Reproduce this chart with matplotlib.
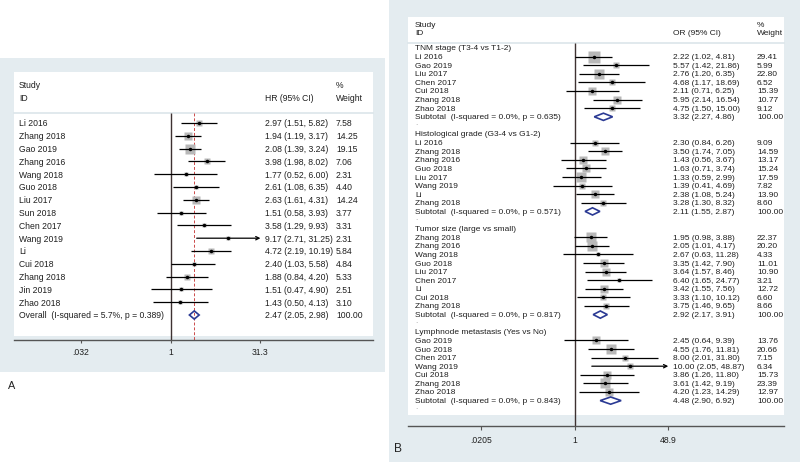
import matplotlib
matplotlib.use('Agg')
import matplotlib.pyplot as plt
from matplotlib.patches import Rectangle, Polygon
import numpy as np

# ---------------- data: panel A (HR) ----------------
a_studies = ["Li 2016", "Zhang 2018", "Gao 2019", "Zhang 2016", "Wang 2018", "Guo 2018",
             "Liu 2017", "Sun 2018", "Chen 2017", "Wang 2019", "Li", "Cui 2018",
             "Zhang 2018", "Jin 2019", "Zhao 2018"]
a_hr = [2.97, 1.94, 2.08, 3.98, 1.77, 2.61, 2.63, 1.51, 3.58, 9.17, 4.72, 2.40, 1.88, 1.51, 1.43]
a_lo = [1.51, 1.19, 1.39, 1.98, 0.52, 1.08, 1.61, 0.58, 1.29, 2.71, 2.19, 1.03, 0.84, 0.47, 0.50]
a_hi = [5.82, 3.17, 3.24, 8.02, 6.00, 6.35, 4.31, 3.93, 9.93, 31.25, 10.19, 5.58, 4.20, 4.90, 4.13]
a_wt = [7.58, 14.25, 19.15, 7.06, 2.31, 4.40, 14.24, 3.77, 3.31, 2.31, 5.84, 4.84, 5.33, 2.51, 3.10]
a_overall_label = "Overall  (I-squared = 5.7%, p = 0.389)"
a_overall = [2.47, 2.05, 2.98, 100.00]
a_ticks = [0.032, 1, 31.3]
a_ticklabels = [".032", "1", "31.3"]

# ---------------- data: panel B (OR) ----------------
b_group_titles = ["TNM stage (T3-4 vs T1-2)", "Histological grade (G3-4 vs G1-2)",
                  "Tumor size (large vs small)", "Lymphnode metastasis (Yes vs No)"]

tnm_studies = ["Li 2016", "Gao 2019", "Liu 2017", "Chen 2017", "Cui 2018", "Zhang 2018", "Zhao 2018"]
tnm_or = [2.22, 5.57, 2.76, 4.68, 2.11, 5.95, 4.75]
tnm_lo = [1.02, 1.42, 1.20, 1.17, 0.71, 2.14, 1.50]
tnm_hi = [4.81, 21.86, 6.35, 18.69, 6.25, 16.54, 15.00]
tnm_wt = [29.41, 5.99, 22.80, 6.52, 15.39, 10.77, 9.12]
tnm_sub = [3.32, 2.27, 4.86, 100.00]
tnm_p = "0.635"

hist_studies = ["Li 2016", "Zhang 2018", "Zhang 2016", "Guo 2018", "Liu 2017", "Wang 2019", "Li", "Zhang 2018"]
hist_or = [2.30, 3.50, 1.43, 1.63, 1.33, 1.39, 2.38, 3.28]
hist_lo = [0.84, 1.74, 0.56, 0.71, 0.59, 0.41, 1.08, 1.30]
hist_hi = [6.26, 7.05, 3.67, 3.74, 2.99, 4.69, 5.24, 8.32]
hist_wt = [9.09, 14.59, 13.17, 15.24, 17.59, 7.82, 13.90, 8.60]
hist_sub = [2.11, 1.55, 2.87, 100.00]
hist_p = "0.571"

size_studies = ["Zhang 2018", "Zhang 2016", "Wang 2018", "Guo 2018", "Liu 2017", "Chen 2017", "Li", "Cui 2018", "Zhang 2018"]
size_or = [1.95, 2.05, 2.67, 3.35, 3.64, 6.40, 3.42, 3.33, 3.75]
size_lo = [0.98, 1.01, 0.63, 1.42, 1.57, 1.65, 1.55, 1.10, 1.46]
size_hi = [3.88, 4.17, 11.28, 7.90, 8.46, 24.77, 7.56, 10.12, 9.65]
size_wt = [22.37, 20.20, 4.33, 11.01, 10.90, 3.21, 12.72, 6.60, 8.66]
size_sub = [2.92, 2.17, 3.91, 100.00]
size_p = "0.817"

lymph_studies = ["Gao 2019", "Guo 2018", "Chen 2017", "Wang 2019", "Cui 2018", "Zhang 2018", "Zhao 2018"]
lymph_or = [2.45, 4.55, 8.00, 10.00, 3.86, 3.61, 4.20]
lymph_lo = [0.64, 1.76, 2.01, 2.05, 1.26, 1.42, 1.23]
lymph_hi = [9.39, 11.81, 31.80, 48.87, 11.80, 9.19, 14.29]
lymph_wt = [13.76, 20.66, 7.15, 6.34, 15.73, 23.39, 12.97]
lymph_sub = [4.48, 2.90, 6.92, 100.00]
lymph_p = "0.843"

b_ticks = [0.0205, 1, 48.9]
b_ticklabels = [".0205", "1", "48.9"]

# ---------------- styling ----------------
plt.rcParams['font.family'] = ['Liberation Sans', 'DejaVu Sans']
W, H = 800, 462
fig = plt.figure(figsize=(8, 4.62), dpi=100)
fig.patch.set_facecolor('white')

BG = '#e4ecf0'
SEP = '#dce5ea'
TXT = '#1f1f1f'
BOX = '#b8b8b8'
NULLC = '#3e3232'
DIAM = '#2b3a94'
REDD = '#cc4a4a'


def frect(x0, y0, x1, y1, color, z=-5):
    fig.add_artist(Rectangle((x0 / W, 1 - y1 / H), (x1 - x0) / W, (y1 - y0) / H,
                             transform=fig.transFigure, facecolor=color,
                             edgecolor='none', zorder=z))


def fline(x0, x1, y, color, lw=1.0):
    fig.add_artist(plt.Line2D([x0 / W, x1 / W], [1 - y / H, 1 - y / H],
                              transform=fig.transFigure, color=color, lw=lw, zorder=-3))


def make_ax(x0, y0, x1, y1, null_px, ppd, row0_px, row_px):
    ax = fig.add_axes([x0 / W, 1 - y1 / H, (x1 - x0) / W, (y1 - y0) / H])
    ax.set_facecolor('none')
    ax.set_xscale('log')
    ax.set_xlim(10 ** ((x0 - null_px) / ppd), 10 ** ((x1 - null_px) / ppd))
    ax.set_ylim((y1 - row0_px) / row_px, (y0 - row0_px) / row_px)
    for s in ['top', 'left', 'right']:
        ax.spines[s].set_visible(False)
    ax.spines['bottom'].set_color('#555555')
    ax.spines['bottom'].set_linewidth(1.0)
    ax.set_yticks([])
    ax.minorticks_off()
    return ax


def px_to_ax(ax_x0, ax_x1, px):
    return (px - ax_x0) / (ax_x1 - ax_x0)


def draw_study(ax, y, e, l, h, w, clip, box_scale=2.2):
    ax.plot([e], [y], marker='s', ms=box_scale * np.sqrt(w) * 0.72, color=BOX,
            mec='none', zorder=2)
    if h >= clip * 0.99:
        ax.annotate('', xy=(clip, y), xytext=(l, y),
                    arrowprops=dict(arrowstyle='->', color='black', lw=0.9,
                                    shrinkA=0, shrinkB=0, mutation_scale=6), zorder=3)
    else:
        ax.plot([l, h], [y, y], color='black', lw=0.9, zorder=3, solid_capstyle='butt')
    ax.plot([e], [y], 'o', ms=2.5, color='black', mec='none', zorder=4)


def draw_diamond(ax, y, e, l, h, dh):
    ax.add_patch(Polygon([(l, y), (e, y - dh), (h, y), (e, y + dh)], closed=True,
                         facecolor='none', edgecolor=DIAM, lw=1.2, zorder=4))


# ---------------- background panels ----------------
frect(0, 58, 385, 372, BG)
frect(14, 72, 373, 336, 'white', z=-4)
frect(389, 0, 800, 462, BG)
frect(408, 17, 784, 415, 'white', z=-4)

# ================= Panel A =================
AX0, AX1 = 14, 373
axA = make_ax(AX0, 72, AX1, 340, null_px=170.7, ppd=60.0, row0_px=123, row_px=12.8)
fline(14, 373, 113, SEP, lw=1.2)
ybot_A = axA.get_ylim()[0]
ysep_A = (113 - 123) / 12.8
axA.vlines(1, ysep_A, ybot_A, color=NULLC, lw=1.0, zorder=1)
axA.vlines(a_overall[0], ysep_A, ybot_A, color=REDD, lw=0.7, linestyles=(0, (3, 2)), zorder=1)

fsA = 6.2
tA = axA.get_yaxis_transform()
xl = px_to_ax(AX0, AX1, 19)
xc = px_to_ax(AX0, AX1, 265)
xw = px_to_ax(AX0, AX1, 336)
axA.text(xl, (85 - 123) / 12.8, "Study", transform=tA, fontsize=fsA, color=TXT, va='center_baseline')
axA.text(xl, (98 - 123) / 12.8, "ID", transform=tA, fontsize=fsA, color=TXT, va='center_baseline')
axA.text(xc, (98 - 123) / 12.8, "HR (95% CI)", transform=tA, fontsize=fsA, color=TXT, va='center_baseline')
axA.text(xw, (85 - 123) / 12.8, "%", transform=tA, fontsize=fsA, color=TXT, va='center_baseline')
axA.text(xw, (98 - 123) / 12.8, "Weight", transform=tA, fontsize=fsA, color=TXT, va='center_baseline')

for i, (s, e, l, h, w) in enumerate(zip(a_studies, a_hr, a_lo, a_hi, a_wt)):
    draw_study(axA, i, e, l, h, w, clip=a_ticks[-1])
    axA.text(xl, i, s, transform=tA, fontsize=fsA, color=TXT, va='center_baseline')
    axA.text(xc, i, f"{e:.2f} ({l:.2f}, {h:.2f})", transform=tA, fontsize=fsA, color=TXT, va='center_baseline')
    axA.text(xw, i, f"{w:.2f}", transform=tA, fontsize=fsA, color=TXT, va='center_baseline')

iy = len(a_studies)
draw_diamond(axA, iy, a_overall[0], a_overall[1], a_overall[2], 0.32)
axA.text(xl, iy, a_overall_label, transform=tA, fontsize=fsA, color=TXT, va='center_baseline')
axA.text(xc, iy, f"{a_overall[0]:.2f} ({a_overall[1]:.2f}, {a_overall[2]:.2f})", transform=tA,
         fontsize=fsA, color=TXT, va='center_baseline')
axA.text(xw, iy, f"{a_overall[3]:.2f}", transform=tA, fontsize=fsA, color=TXT, va='center_baseline')

axA.set_xticks(a_ticks)
axA.set_xticklabels(a_ticklabels)
axA.tick_params(axis='x', direction='out', length=2.5, width=0.8, color='#555555',
                labelsize=6.2, labelcolor=TXT, pad=3.5)
fig.text(8 / W, 1 - 386 / H, "A", fontsize=7.8, color='#222222', va='center')

# ================= Panel B =================
BX0, BX1 = 408, 784
R0, RP = 48, 8.6
axB = make_ax(BX0, 17, BX1, 426, null_px=574.5, ppd=55.5, row0_px=R0, row_px=RP)
fline(408, 784, 43, SEP, lw=1.2)
ybot_B = axB.get_ylim()[0]
ysep_B = (43 - R0) / RP
axB.vlines(1, ysep_B, ybot_B, color=NULLC, lw=1.0, zorder=1)

fsB = 6.0
tB = axB.get_yaxis_transform()
bl = px_to_ax(BX0, BX1, 415)
bc = px_to_ax(BX0, BX1, 673)
bw = px_to_ax(BX0, BX1, 757)
axB.text(bl, (25 - R0) / RP, "Study", transform=tB, fontsize=fsB, color=TXT, va='center_baseline')
axB.text(bl, (32.5 - R0) / RP, "ID", transform=tB, fontsize=fsB, color=TXT, va='center_baseline')
axB.text(bc, (33 - R0) / RP, "OR (95% CI)", transform=tB, fontsize=fsB, color=TXT, va='center_baseline')
axB.text(bw, (25 - R0) / RP, "%", transform=tB, fontsize=fsB, color=TXT, va='center_baseline')
axB.text(bw, (33 - R0) / RP, "Weight", transform=tB, fontsize=fsB, color=TXT, va='center_baseline')

groups = [
    (b_group_titles[0], tnm_studies, tnm_or, tnm_lo, tnm_hi, tnm_wt, tnm_sub, tnm_p),
    (b_group_titles[1], hist_studies, hist_or, hist_lo, hist_hi, hist_wt, hist_sub, hist_p),
    (b_group_titles[2], size_studies, size_or, size_lo, size_hi, size_wt, size_sub, size_p),
    (b_group_titles[3], lymph_studies, lymph_or, lymph_lo, lymph_hi, lymph_wt, lymph_sub, lymph_p),
]

row = 0
for title, st, o, lo, hi, wt, sub, p in groups:
    axB.text(bl, row, title, transform=tB, fontsize=fsB, color=TXT, va='center_baseline')
    row += 1
    for s, e, l, h, w in zip(st, o, lo, hi, wt):
        draw_study(axB, row, e, l, h, w, clip=b_ticks[-1])
        axB.text(bl, row, s, transform=tB, fontsize=fsB, color=TXT, va='center_baseline')
        axB.text(bc, row, f"{e:.2f} ({l:.2f}, {h:.2f})", transform=tB, fontsize=fsB, color=TXT,
                 va='center_baseline')
        axB.text(bw, row, f"{w:.2f}", transform=tB, fontsize=fsB, color=TXT, va='center_baseline')
        row += 1
    draw_diamond(axB, row, sub[0], sub[1], sub[2], 0.42)
    axB.text(bl, row, f"Subtotal  (I-squared = 0.0%, p = {p})", transform=tB, fontsize=fsB,
             color=TXT, va='center_baseline')
    axB.text(bc, row, f"{sub[0]:.2f} ({sub[1]:.2f}, {sub[2]:.2f})", transform=tB, fontsize=fsB,
             color=TXT, va='center_baseline')
    axB.text(bw, row, f"{sub[3]:.2f}", transform=tB, fontsize=fsB, color=TXT, va='center_baseline')
    row += 1
    axB.text(bl, row - 0.3, ".", transform=tB, fontsize=fsB, color='#9a9a9a', va='center_baseline')
    row += 1

axB.set_xticks(b_ticks)
axB.set_xticklabels(b_ticklabels)
axB.tick_params(axis='x', direction='out', length=3, width=0.8, color='#555555',
                labelsize=6.2, labelcolor=TXT, pad=4.5)
fig.text(394 / W, 1 - 449 / H, "B", fontsize=8.6, color='#222222', va='center')

fig.savefig('out.png', dpi=100, facecolor='white')
